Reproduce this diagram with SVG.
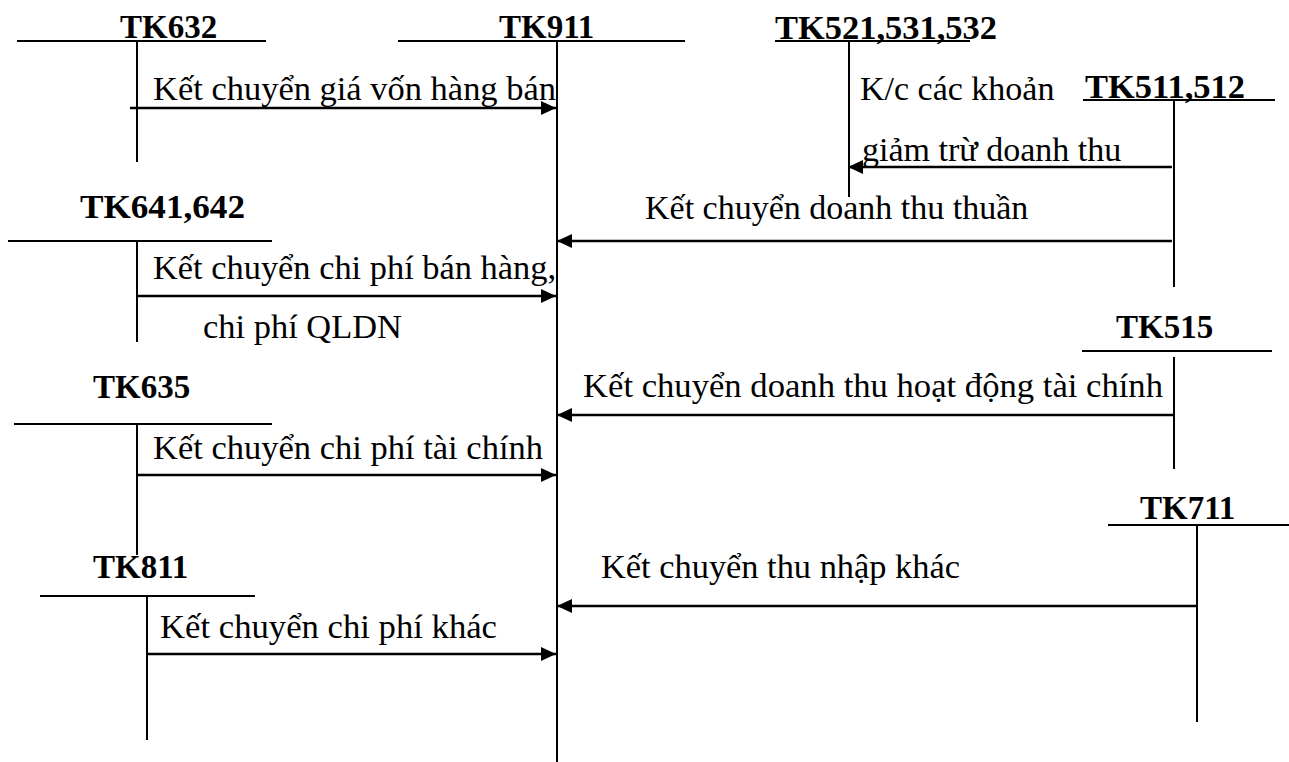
<svg xmlns="http://www.w3.org/2000/svg" width="1289" height="762" viewBox="0 0 1289 762">
<style>
.t{font-family:"Liberation Serif","Times New Roman",serif;font-size:34px;fill:#000}
.b{font-family:"Liberation Serif","Times New Roman",serif;font-size:33px;font-weight:bold;fill:#000}
.ln{stroke:#000;stroke-width:2;fill:none}
.ar{stroke:#000;stroke-width:2.5;fill:none;marker-end:url(#ah)}
</style>
<defs>
<marker id="ah" markerUnits="userSpaceOnUse" markerWidth="16" markerHeight="14" refX="15" refY="7" orient="auto">
<path d="M0,0 L15,7 L0,14 Z" fill="#000"/>
</marker>
</defs>
<rect width="1289" height="762" fill="#fff"/>
<g id="tk632">
<text class="b" x="120" y="38">TK632</text>
<line class="ln" x1="17" y1="41" x2="266" y2="41"/>
<line class="ln" x1="137" y1="41" x2="137" y2="162"/>
</g>
<g id="tk911">
<text class="b" x="499" y="38">TK911</text>
<line class="ln" x1="398" y1="41" x2="685" y2="41"/>
<line class="ln" x1="557" y1="41" x2="557" y2="762"/>
</g>
<g id="tk521">
<text class="b" x="775" y="39" textLength="222" lengthAdjust="spacingAndGlyphs">TK521,531,532</text>
<line class="ln" x1="775" y1="41" x2="970" y2="41"/>
<line class="ln" x1="849" y1="41" x2="849" y2="197"/>
</g>
<g id="tk511">
<text class="b" x="1085" y="98" textLength="160" lengthAdjust="spacingAndGlyphs">TK511,512</text>
<line class="ln" x1="1083" y1="100" x2="1275" y2="100"/>
<line class="ln" x1="1174" y1="100" x2="1174" y2="287"/>
</g>
<g id="tk641">
<text class="b" x="80" y="218" textLength="165" lengthAdjust="spacingAndGlyphs">TK641,642</text>
<line class="ln" x1="8" y1="241" x2="272" y2="241"/>
<line class="ln" x1="137" y1="241" x2="137" y2="342"/>
</g>
<g id="tk515">
<text class="b" x="1116" y="338">TK515</text>
<line class="ln" x1="1082" y1="351" x2="1272" y2="351"/>
<line class="ln" x1="1174" y1="357" x2="1174" y2="469"/>
</g>
<g id="tk635">
<text class="b" x="93" y="398">TK635</text>
<line class="ln" x1="14" y1="424" x2="272" y2="424"/>
<line class="ln" x1="137" y1="424" x2="137" y2="555"/>
</g>
<g id="tk711">
<text class="b" x="1140" y="519">TK711</text>
<line class="ln" x1="1108" y1="525" x2="1289" y2="525"/>
<line class="ln" x1="1197" y1="525" x2="1197" y2="722"/>
</g>
<g id="tk811">
<text class="b" x="93" y="578">TK811</text>
<line class="ln" x1="40" y1="596" x2="255" y2="596"/>
<line class="ln" x1="147" y1="596" x2="147" y2="740"/>
</g>
<g id="connectors">
<line class="ar" x1="130" y1="108" x2="556" y2="108"/>
<line class="ar" x1="1172" y1="167" x2="848" y2="167"/>
<line class="ar" x1="1172" y1="241" x2="557" y2="241"/>
<line class="ar" x1="137" y1="296" x2="556" y2="296"/>
<line class="ar" x1="1174" y1="415" x2="557" y2="415"/>
<line class="ar" x1="137" y1="475" x2="556" y2="475"/>
<line class="ar" x1="1197" y1="606" x2="557" y2="606"/>
<line class="ar" x1="147" y1="654" x2="556" y2="654"/>
</g>
<g id="labels">
<text class="t" x="153" y="100" textLength="403" lengthAdjust="spacingAndGlyphs">Kết chuyển giá vốn hàng bán</text>
<text class="t" x="860" y="100">K/c các khoản</text>
<text class="t" x="862" y="161">giảm trừ doanh thu</text>
<text class="t" x="645" y="219">Kết chuyển doanh thu thuần</text>
<text class="t" x="153" y="279" textLength="403" lengthAdjust="spacingAndGlyphs">Kết chuyển chi phí bán hàng,</text>
<text class="t" x="203" y="338" textLength="199" lengthAdjust="spacingAndGlyphs">chi phí QLDN</text>
<text class="t" x="583" y="397" textLength="580" lengthAdjust="spacingAndGlyphs">Kết chuyển doanh thu hoạt động tài chính</text>
<text class="t" x="153" y="459" textLength="390" lengthAdjust="spacingAndGlyphs">Kết chuyển chi phí tài chính</text>
<text class="t" x="601" y="578" textLength="359" lengthAdjust="spacingAndGlyphs">Kết chuyển thu nhập khác</text>
<text class="t" x="160" y="638" textLength="337" lengthAdjust="spacingAndGlyphs">Kết chuyển chi phí khác</text>
</g>
</svg>
